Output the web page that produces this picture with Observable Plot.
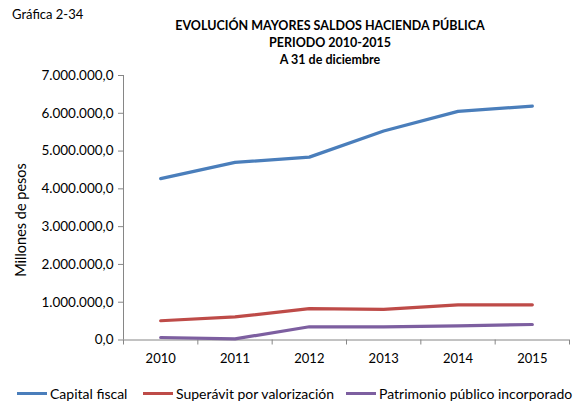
<!DOCTYPE html>
<html><head><meta charset="utf-8">
<script src="https://cdn.jsdelivr.net/npm/d3@7"></script>
<script src="https://cdn.jsdelivr.net/npm/@observablehq/plot@0.6"></script>
<style>
body{margin:0;background:#fff;font-family:Lato,"Open Sans",sans-serif;}
#wrap{position:relative;width:588px;height:403px;overflow:hidden;}
#wrap svg{position:absolute;left:0;top:0;}
.t{position:absolute;color:#000;white-space:nowrap;}
.title{left:30px;width:600px;margin-left:0;text-align:center;font-weight:bold;font-size:12.5px;transform:translateX(0);}
.leg{position:absolute;top:385px;font-size:14px;display:flex;align-items:center;color:#000;}
.leg span.sw{display:inline-block;width:30px;height:3px;margin-right:3px;}
</style></head>
<body><div id="wrap"></div>
<script>
const years = [2010, 2011, 2012, 2013, 2014, 2015];
const capitalFiscal = [4270000, 4700000, 4840000, 5530000, 6050000, 6190000];
const superavit = [510000, 610000, 830000, 810000, 930000, 930000];
const patrimonio = [66000, 30000, 350000, 350000, 375000, 410000];
const seriesNames = ["Capital fiscal", "Superávit por valorización", "Patrimonio público incorporado"];
const seriesColors = ["#4A7EBB", "#BE4B48", "#7D5FA0"];
const yTicks = [0, 1000000, 2000000, 3000000, 4000000, 5000000, 6000000, 7000000];
const xTickMarks = [2009.5, 2010.5, 2011.5, 2012.5, 2013.5, 2014.5, 2015.5];

const allSeries = [capitalFiscal, superavit, patrimonio];
const data = [];
allSeries.forEach((vals, s) => vals.forEach((v, i) => data.push({year: years[i], value: v, series: seriesNames[s]})));

const loc = d3.formatLocale({decimal: ",", thousands: ".", grouping: [3], currency: ["", ""]});
const fmt = loc.format(",.1f");

const chart = Plot.plot({
  width: 588, height: 403,
  marginTop: 75, marginBottom: 63.5, marginLeft: 123, marginRight: 19,
  style: {fontFamily: "Lato, 'Open Sans', sans-serif", fontSize: "13px", color: "#000", background: "transparent"},
  x: {type: "linear", domain: [2009.5, 2015.5]},
  y: {domain: [0, 7000000]},
  color: {domain: seriesNames, range: seriesColors},
  marks: [
    Plot.ruleX([2009.5], {stroke: "#868686"}),
    Plot.ruleY([0], {stroke: "#868686"}),
    Plot.axisY({ticks: yTicks, tickFormat: fmt, tickSize: 5, tickPadding: 5, stroke: "#868686", label: null, fill: "#000", fontSize: 13.5}),
    Plot.axisX({ticks: xTickMarks, tickFormat: () => "", tickSize: 5, stroke: "#868686", label: null}),
    Plot.axisX({ticks: years, tickFormat: d => String(d), tickSize: 0, tickPadding: 14, label: null, fill: "#000", fontSize: 13}),
    Plot.line(data, {x: "year", y: "value", z: "series", stroke: "series", strokeWidth: 3.2, strokeLinecap: "round", strokeLinejoin: "round"})
  ]
});
const wrap = document.getElementById("wrap");
wrap.appendChild(chart);

function addText(cls, txt, style) {
  const d = document.createElement("div");
  d.className = cls; d.textContent = txt;
  Object.assign(d.style, style); wrap.appendChild(d);
}
addText("t", "Gráfica 2-34", {left: "12px", top: "6px", fontSize: "13px"});
const titleCenter = 330;
[["EVOLUCIÓN MAYORES SALDOS HACIENDA PÚBLICA", 25], ["PERIODO 2010-2015", 42], ["A 31 de diciembre", 59]].forEach(([txt, cy]) => {
  const d = document.createElement("div");
  d.className = "t"; d.textContent = txt;
  Object.assign(d.style, {left: titleCenter + "px", top: cy + "px", fontSize: "12.5px", fontWeight: "bold", transform: "translate(-50%,-50%)"});
  wrap.appendChild(d);
});
const yl = document.createElement("div");
yl.className = "t"; yl.textContent = "Millones de pesos";
Object.assign(yl.style, {left: "20px", top: "220px", fontSize: "14.5px", transform: "translate(-50%,-50%) rotate(-90deg)"});
wrap.appendChild(yl);

const legX = [17, 143, 346];
seriesNames.forEach((n, i) => {
  const d = document.createElement("div");
  d.className = "leg"; d.style.left = legX[i] + "px";
  d.innerHTML = `<span class="sw" style="background:${seriesColors[i]}"></span><span>${n}</span>`;
  wrap.appendChild(d);
});
</script></body></html>
